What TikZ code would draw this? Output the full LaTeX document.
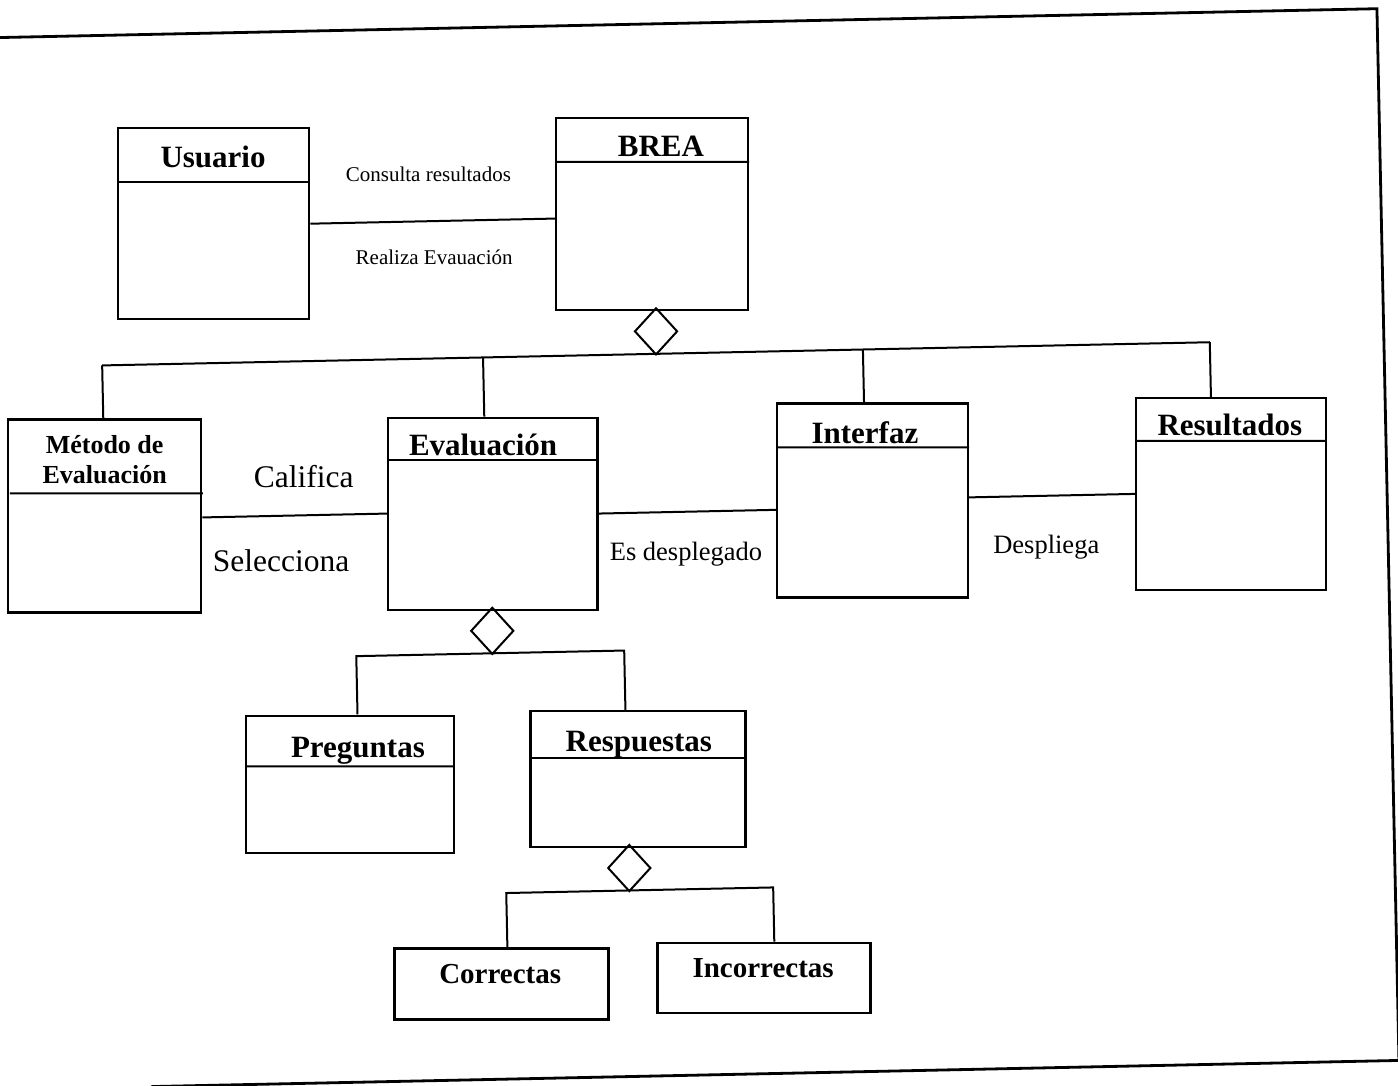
\documentclass[tikz,border=0pt]{standalone}
\usepackage{fontspec}
\setmainfont{Liberation Serif}
\usetikzlibrary{shapes.geometric,calc}

\tikzset{
  cls/.style={draw, line width=2.2pt, rectangle, inner sep=0pt, anchor=north west},
  divider/.style={line width=2pt, shorten <=1.1pt, shorten >=1.1pt},
  link/.style={line width=2pt},
  agg/.style={draw, line width=2pt, diamond, inner sep=0pt, minimum width=43pt, minimum height=47pt, anchor=north},
  frame/.style={line width=2.8pt},
  head/.style={inner sep=0pt, anchor=base, font=\bfseries\fontsize{31}{36}\selectfont},
  headsmall/.style={inner sep=0pt, anchor=base, font=\bfseries\fontsize{29}{34}\selectfont},
  lblsmall/.style={inner sep=0pt, anchor=base, font=\fontsize{21}{25}\selectfont},
  lblmid/.style={inner sep=0pt, anchor=base, font=\fontsize{26.5}{31}\selectfont},
  lblbig/.style={inner sep=0pt, anchor=base, font=\fontsize{31.5}{37}\selectfont},
}

\begin{document}
\begin{tikzpicture}[x=1pt, y=-1pt]
\useasboundingbox[fill=white] (0,0) rectangle (1398,1086);

\begin{scope}[rotate around={1.2:(699,543)}]
  % page frame
  \draw[frame] (-40,23) -- (1388,23) -- (1388,1075) -- (140,1075);

  % classes
  \node[cls, minimum width=191pt, minimum height=191pt] (usuario) at (126,115) {};
  \node[cls, minimum width=192pt, minimum height=192pt] (brea) at (564,114) {};
  \node[cls, minimum width=193pt, minimum height=193pt] (metodo) at (10,404) {};
  \node[cls, minimum width=209pt, minimum height=192pt] (evaluacion) at (390,410) {};
  \node[cls, minimum width=191pt, minimum height=194pt] (interfaz) at (779,404) {};
  \node[cls, minimum width=190pt, minimum height=192pt] (resultados) at (1138,406) {};
  \node[cls, minimum width=208pt, minimum height=137pt] (preguntas) at (241,705) {};
  \node[cls, minimum width=215pt, minimum height=136pt] (respuestas) at (526,706) {};
  \node[cls, minimum width=214pt, minimum height=71pt] (correctas) at (385,941) {};
  \node[cls, minimum width=213pt, minimum height=70pt] (incorrectas) at (648,941) {};

  % name compartments
  \draw[divider] ($(usuario.north west)+(0,55)$) -- ($(usuario.north east)+(0,55)$);
  \draw[divider] ($(brea.north west)+(0,45)$) -- ($(brea.north east)+(0,45)$);
  \draw[divider] ($(metodo.north west)+(0,75)$) -- ($(metodo.north east)+(0,75)$);
  \draw[divider] ($(evaluacion.north west)+(0,44)$) -- ($(evaluacion.north east)+(0,44)$);
  \draw[divider] ($(interfaz.north west)+(0,45)$) -- ($(interfaz.north east)+(0,45)$);
  \draw[divider] ($(resultados.north west)+(0,44)$) -- ($(resultados.north east)+(0,44)$);
  \draw[divider] ($(preguntas.north west)+(0,52)$) -- ($(preguntas.north east)+(0,52)$);
  \draw[divider] ($(respuestas.north west)+(0,48)$) -- ($(respuestas.north east)+(0,48)$);

  % class names
  \node[head] (tUsuario) at (221,157) {Usuario};
  \node[head] (tBrea) at (669,156) {BREA};
  \node[inner sep=0pt, align=center, font=\bfseries\fontsize{26}{30}\selectfont] (tMetodo) at (106.5,447) {Método de\\Evaluación};
  \node[head] (tEvaluacion) at (485,450.5) {Evaluación};
  \node[head] (tInterfaz) at (867,446.5) {Interfaz};
  \node[head] (tResultados) at (1232,447) {Resultados};
  \node[head] (tPreguntas) at (353.5,750) {Preguntas};
  \node[head] (tRespuestas) at (634.5,750.5) {Respuestas};
  \node[headsmall] (tCorrectas) at (491,979) {Correctas};
  \node[headsmall] (tIncorrectas) at (754,979) {Incorrectas};

  % aggregation: BREA
  \node[agg] (aggBrea) at (661,306) {};
  \coordinate (jMetodo) at (106,353);
  \coordinate (jEvaluacion) at (487,353);
  \coordinate (jInterfaz) at (867,353);
  \coordinate (jResultados) at (1214,353);
  \draw[link] (jMetodo) -- (jResultados);
  \draw[link] (jMetodo) -- (jMetodo |- metodo.north);
  \draw[link] (jEvaluacion) -- (jEvaluacion |- evaluacion.north);
  \draw[link] (jInterfaz) -- (jInterfaz |- interfaz.north);
  \draw[link] (jResultados) -- (jResultados |- resultados.north);

  % aggregation: Evaluacion
  \node[agg] (aggEvaluacion) at (491,602) {};
  \coordinate (jPreguntas) at (354,649);
  \coordinate (jRespuestas) at (622,649);
  \draw[link] (jPreguntas |- preguntas.north) -- (jPreguntas) -- (jRespuestas) -- (jRespuestas |- respuestas.north);

  % aggregation: Respuestas
  \node[agg] (aggRespuestas) at (623,842) {};
  \coordinate (jCorrectas) at (499,889);
  \coordinate (jIncorrectas) at (766,889);
  \draw[link] (jCorrectas |- correctas.north) -- (jCorrectas) -- (jIncorrectas) -- (jIncorrectas |- incorrectas.north);

  % associations
  \draw[link] (usuario.east) -- (usuario.east -| brea.west);
  \draw[link] (metodo.east |- evaluacion.west) -- (evaluacion.west);
  \draw[link] (evaluacion.east) -- (evaluacion.east -| interfaz.west);
  \draw[link] (interfaz.east |- resultados.west) -- (resultados.west);

  % association labels
  \node[lblsmall] (lConsulta) at (436,176) {Consulta resultados};
  \node[lblsmall] (lRealiza) at (440,259.5) {Realiza Evauación};
  \node[lblbig] (lCalifica) at (305,479) {Califica};
  \node[lblbig] (lSelecciona) at (280.5,563) {Selecciona};
  \node[lblmid] (lDesplegado) at (685.6,560.7) {Es desplegado};
  \node[lblmid] (lDespliega) at (1046,560.3) {Despliega};
\end{scope}
\end{tikzpicture}
\end{document}
